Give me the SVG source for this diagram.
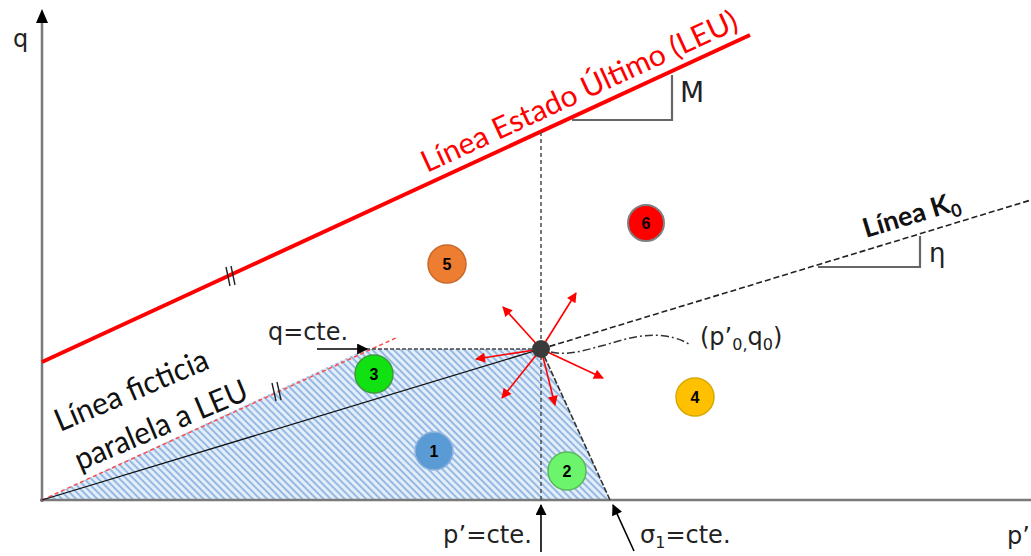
<svg xmlns="http://www.w3.org/2000/svg" width="1031" height="556" viewBox="0 0 1031 556">
<style>
.ax{stroke:#7a7a7a;stroke-width:2.5;fill:none}
.lbl{font-family:"DejaVu Sans",sans-serif;fill:#222}
.cal{font-family:Lato,"Liberation Sans",sans-serif}
.num{font-family:"Liberation Sans",Arial,sans-serif;font-weight:bold;font-size:16px;fill:#000;text-anchor:middle}
.ra{stroke:#ff0000;stroke-width:1.6;fill:none;marker-end:url(#rh)}
.tick{stroke:#222;stroke-width:1.4}
.slope{stroke:#666;stroke-width:2.2;fill:none}
</style>
<defs>
<pattern id="hatch" patternUnits="userSpaceOnUse" width="5" height="5" patternTransform="rotate(-45)">
<rect width="5" height="5" fill="#e3eef9"/>
<line x1="1" y1="0" x2="1" y2="5" stroke="#8db4e2" stroke-width="1.8"/>
</pattern>
<marker id="rh" viewBox="0 0 10 10" refX="9" refY="5" markerWidth="11" markerHeight="10" markerUnits="userSpaceOnUse" orient="auto"><path d="M0,0 L10,5 L0,10 z" fill="#ff0000"/></marker>
<marker id="bh" viewBox="0 0 10 10" refX="9" refY="5" markerWidth="13" markerHeight="11" markerUnits="userSpaceOnUse" orient="auto"><path d="M0,0 L10,5 L0,10 z" fill="#000"/></marker>
</defs>

<g id="region">
<polygon points="42,500 366,349 541,349 610,500" fill="url(#hatch)"/>
<line x1="42" y1="500" x2="610" y2="500" stroke="#6f8fb5" stroke-width="1.5"/>
</g>

<g id="axes">
<line class="ax" x1="42" y1="502" x2="42" y2="20"/>
<path d="M42,9 L36,23 L48,23 z" fill="#000"/>
<line class="ax" x1="40" y1="500" x2="1031" y2="500"/>
<text class="lbl" x="13" y="47" font-size="24">q</text>
<text class="lbl" x="1007" y="544" font-size="24">p’</text>
</g>

<g id="connectors">
<line x1="42" y1="362" x2="750" y2="35" stroke="#ff0000" stroke-width="4"/>
<line x1="42" y1="500" x2="398" y2="337" stroke="#ff4d4d" stroke-width="1.5" stroke-dasharray="4 3"/>
<line x1="366" y1="349" x2="541" y2="349" stroke="#444" stroke-width="1.5" stroke-dasharray="4 2"/>
<line x1="541" y1="132" x2="541" y2="500" stroke="#555" stroke-width="1.6" stroke-dasharray="4 3"/>
<line x1="541" y1="349" x2="610" y2="500" stroke="#333" stroke-width="1.6" stroke-dasharray="6 2"/>
<line x1="42" y1="500" x2="541" y2="349" stroke="#111" stroke-width="1.3"/>
<line x1="541" y1="349" x2="1031" y2="200" stroke="#222" stroke-width="1.6" stroke-dasharray="6 3"/>
<path d="M551,352 C570,356 585,350 605,345 C625,339 645,333 665,336 C678,338 686,342 690,345" fill="none" stroke="#333" stroke-width="1.5" stroke-dasharray="8 3 2 3"/>
<line class="ra" x1="541" y1="349" x2="503" y2="307"/>
<line class="ra" x1="541" y1="349" x2="576" y2="293"/>
<line class="ra" x1="541" y1="349" x2="476" y2="359"/>
<line class="ra" x1="541" y1="349" x2="502" y2="398"/>
<line class="ra" x1="541" y1="349" x2="555" y2="405"/>
<line class="ra" x1="541" y1="349" x2="603" y2="378"/>
<line x1="317" y1="349" x2="367" y2="349" stroke="#000" stroke-width="1.6" marker-end="url(#bh)"/>
<line x1="541" y1="552" x2="541" y2="505" stroke="#000" stroke-width="1.6" marker-end="url(#bh)"/>
<line x1="634" y1="551" x2="613" y2="505" stroke="#000" stroke-width="1.6" marker-end="url(#bh)"/>
<line class="tick" x1="226" y1="267" x2="230" y2="286"/>
<line class="tick" x1="231" y1="266" x2="235" y2="285"/>
<line class="tick" x1="272" y1="383" x2="276" y2="401"/>
<line class="tick" x1="277" y1="382" x2="281" y2="400"/>
<polyline class="slope" points="572,120 672,120 672,75"/>
<polyline class="slope" points="818,267 920,267 920,236"/>
</g>

<g id="P">
<circle cx="541" cy="349" r="9" fill="#3a3a3a"/>
</g>

<g id="n1"><circle cx="434" cy="451" r="19" fill="#5b9bd5" stroke="#8fb4de" stroke-width="1.5"/><text class="num" x="434" y="457">1</text></g>
<g id="n2"><circle cx="567" cy="471" r="19" fill="#6cf56c" stroke="#5cb85c" stroke-width="1.5"/><text class="num" x="567" y="477">2</text></g>
<g id="n3"><circle cx="374" cy="374" r="19" fill="#11e011" stroke="#3d9a3d" stroke-width="1.5"/><text class="num" x="374" y="380">3</text></g>
<g id="n4"><circle cx="695" cy="397" r="19" fill="#ffc000" stroke="#d8a800" stroke-width="1.5"/><text class="num" x="695" y="403">4</text></g>
<g id="n5"><circle cx="447" cy="264" r="19" fill="#ed7d31" stroke="#c8692b" stroke-width="1.5"/><text class="num" x="447" y="270">5</text></g>
<g id="n6"><circle cx="646" cy="223" r="18" fill="#ff0000" stroke="#7f7f7f" stroke-width="2"/><text class="num" x="646" y="229">6</text></g>

<g id="labels">
<text class="cal" x="427" y="173" font-size="30" fill="#ff0000" transform="rotate(-24.8 427 173)" textLength="345" lengthAdjust="spacingAndGlyphs">Línea Estado Último (LEU)</text>
<text class="cal" x="866" y="238" font-size="27" font-weight="bold" fill="#111" transform="rotate(-16.8 866 238)">Línea K<tspan font-size="18" dy="6">0</tspan></text>
<text class="cal" x="60" y="432" font-size="31" fill="#111" transform="rotate(-23 60 432)" textLength="164" lengthAdjust="spacingAndGlyphs">Línea ficticia</text>
<text class="cal" x="80" y="471" font-size="31" fill="#111" transform="rotate(-23 80 471)" textLength="185" lengthAdjust="spacingAndGlyphs">paralela a LEU</text>
<text class="lbl" x="680" y="102" font-size="28">M</text>
<text class="lbl" x="929" y="262" font-size="26">η</text>
<text class="lbl" x="268" y="340" font-size="24" textLength="80" lengthAdjust="spacingAndGlyphs">q=cte.</text>
<text class="lbl" x="443" y="543" font-size="24" textLength="89" lengthAdjust="spacingAndGlyphs">p’=cte.</text>
<text class="lbl" x="640" y="543" font-size="24">σ<tspan font-size="16" dy="5">1</tspan><tspan dy="-5">=cte.</tspan></text>
<text class="lbl" x="700" y="345" font-size="24">(p’<tspan font-size="16" dy="5">0,</tspan><tspan dy="-5">q</tspan><tspan font-size="16" dy="5">0</tspan><tspan dy="-5">)</tspan></text>
</g>
</svg>
